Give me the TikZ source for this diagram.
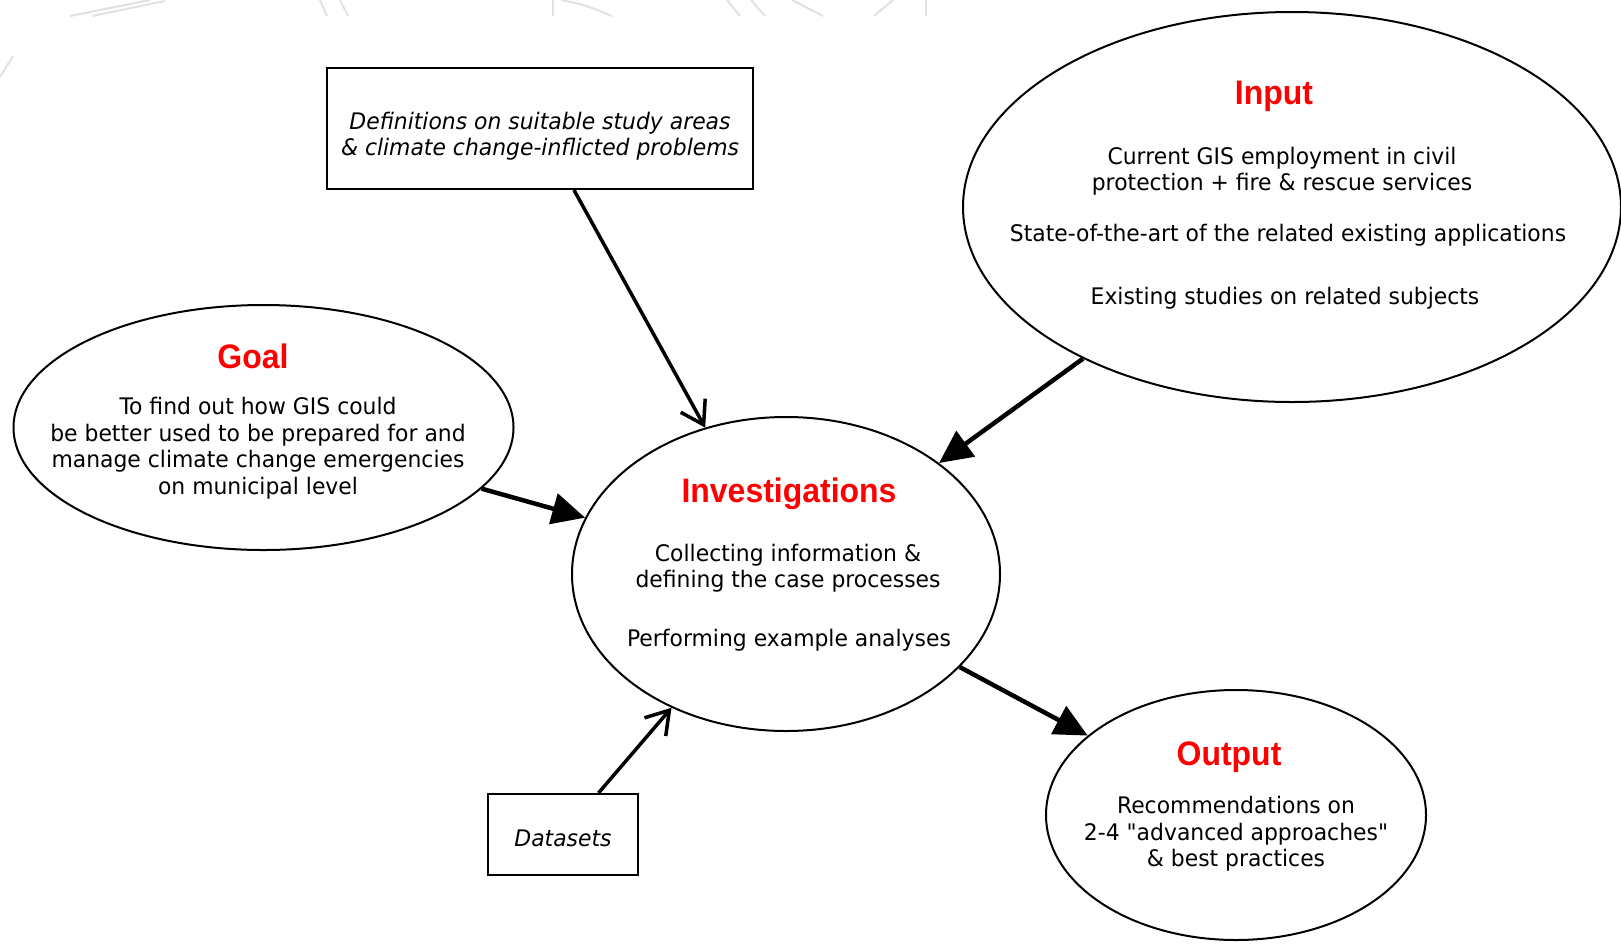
\documentclass[tikz,border=0pt]{standalone}
\usepackage{fontspec}
\setmainfont{DejaVu Sans}[FakeStretch=0.96,Ligatures=TeXOff]
\newfontfamily\headfont{Liberation Sans}[FakeStretch=0.94]
\usetikzlibrary{shapes.geometric,arrows.meta}
\definecolor{headred}{RGB}{255,0,0}
\definecolor{faint}{RGB}{225,225,225}

\begin{document}
\begin{tikzpicture}[x=1pt,y=-1pt,
  bubble/.style={draw,line width=2pt,ellipse,inner sep=0pt},
  panel/.style={draw,line width=2pt,rectangle,inner sep=0pt},
  body/.style={font=\fontsize{22.8}{26.5}\selectfont,align=center,inner sep=0pt},
  slanted/.style={body,font=\itshape\fontsize{22.8}{26.5}\selectfont},
  head/.style={font=\headfont\bfseries\fontsize{34}{40}\selectfont,
    text=headred,inner sep=0pt,anchor=base},
  fatarrow/.style={line width=4.5pt,-{Triangle[length=33pt,width=31pt]}},
  barbarrow/.style={line width=3.5pt,-{Straight Barb[length=22pt,width=28pt]}},
  wm/.style={faint,line width=2pt}]
\useasboundingbox (0,0) rectangle (1621,943);

% faint background strokes along the top edge
\draw[wm] (70,16) -- (150,0);
\draw[wm] (92,16) -- (165,1);
\draw[wm] (320,0) -- (327,16);
\draw[wm] (340,0) -- (348,16);
\draw[wm] (553,0) -- (553,16);
\draw[wm] (561,0) .. controls (585,5) .. (612,16);
\draw[wm] (727,0) -- (740,16);
\draw[wm] (751,0) -- (765,16);
\draw[wm] (792,0) -- (823,16);
\draw[wm] (893,0) -- (874,16);
\draw[wm] (926,0) -- (926,16);
\draw[wm] (0,77) -- (13,56);

% outlines
\node[bubble,minimum width=500pt,minimum height=245pt] (goal) at (263.5,427.5) {};
\node[bubble,minimum width=428pt,minimum height=314pt] (inv) at (786,574) {};
\node[bubble,minimum width=658pt,minimum height=390pt] (input) at (1292,207) {};
\node[bubble,minimum width=380pt,minimum height=250pt] (output) at (1236,815) {};
\node[panel,minimum width=426pt,minimum height=121pt] (defs) at (540,128.5) {};
\node[panel,minimum width=150pt,minimum height=81pt] (data) at (563,834.5) {};

% texts
\node[slanted] (defsT) at (540,136)
  {Definitions on suitable study areas\\\& climate change-inflicted problems};
\node[slanted] (dataT) at (563,838) {Datasets};

\node[head] (goalT) at (253,368) {Goal};
\node[body] (goalB) at (258,448) {To find out how GIS could\\be better used to be prepared for and\\manage climate change emergencies\\on municipal level};

\node[head] (invT) at (789,502) {Investigations};
\node[body] (invB1) at (788,568) {Collecting information \&\\defining the case processes};
\node[body] (invB2) at (789,640) {Performing example analyses};

\node[head] (inT) at (1274,104) {Input};
\node[body] (inB1) at (1282,171) {Current GIS employment in civil\\protection + fire \& rescue services};
\node[body] (inB2) at (1288,235) {State-of-the-art of the related existing applications};
\node[body] (inB3) at (1285,298) {Existing studies on related subjects};

\node[head] (outT) at (1229,765) {Output};
\node[body] (outB) at (1236,834) {Recommendations on\\2-4 "advanced approaches"\\\& best practices};

% connectors
\draw[fatarrow] (goal) -- (inv);
\draw[fatarrow] (input) -- (inv);
\draw[fatarrow] (inv) -- (output);
\draw[barbarrow] (defs) -- (inv);
\draw[barbarrow] (data) -- (inv);
\end{tikzpicture}
\end{document}
